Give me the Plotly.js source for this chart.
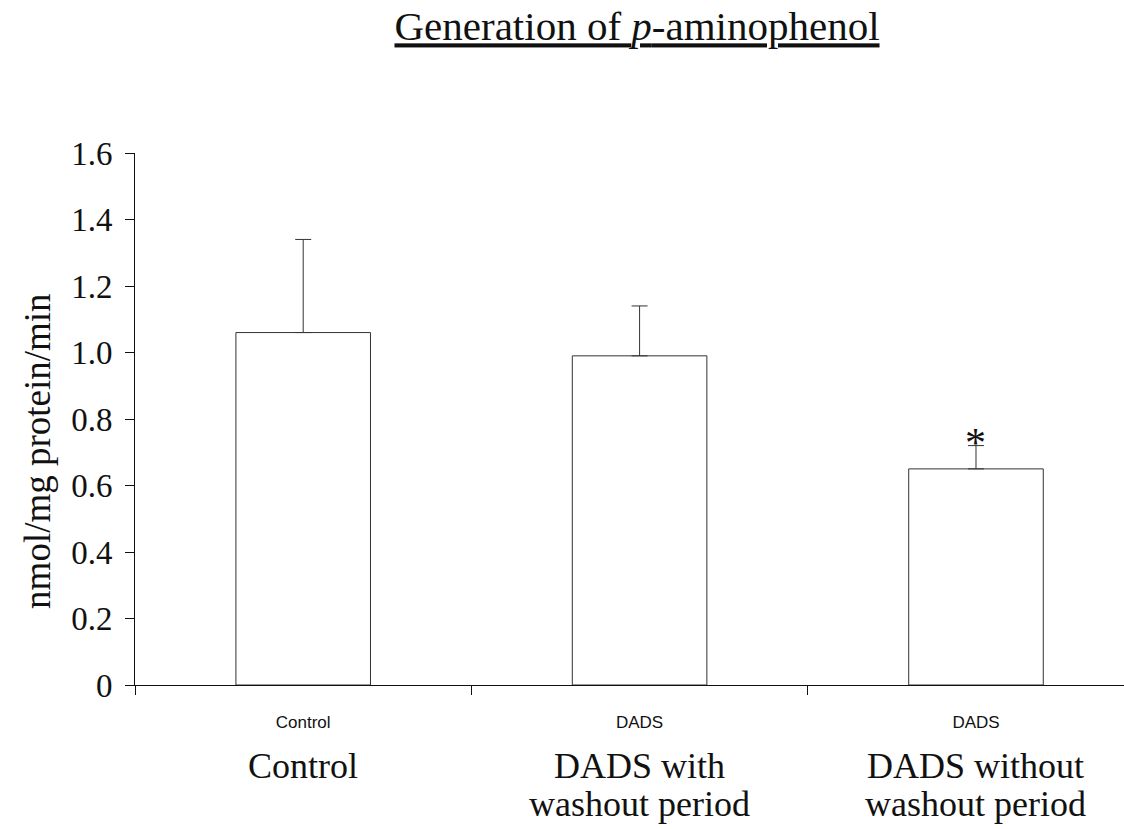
<!DOCTYPE html>
<html>
<head>
<meta charset="utf-8">
<script src="https://cdn.plot.ly/plotly-3.0.1.min.js"></script>
<style>html,body{margin:0;padding:0;background:#fff;}#chart{width:1124px;height:829px;}</style>
</head>
<body>
<div id="chart"></div>
<script>
// ---- data ----
var categories = ["Control", "DADS with washout period", "DADS without washout period"];
var tickLabelsX = ["Control", "DADS", "DADS"];
var groupLine1 = ["Control", "DADS with", "DADS without"];
var groupLine2 = ["", "washout period", "washout period"];
var means = [1.06, 0.99, 0.65];
var sdPlus = [0.28, 0.15, 0.07];
var significance = ["", "", "*"];
var yTickVals = [0, 0.2, 0.4, 0.6, 0.8, 1.0, 1.2, 1.4, 1.6];
var yTickText = ["0", "0.2", "0.4", "0.6", "0.8", "1.0", "1.2", "1.4", "1.6"];
var yTitle = "nmol/mg protein/min";

var serif = "'Liberation Serif', 'Times New Roman', serif";
var sans = "'Liberation Sans', Arial, sans-serif";

var trace = {
  type: "bar",
  x: categories,
  y: means,
  marker: {color: "#ffffff", line: {color: "#333333", width: 1}},
  error_y: {type: "data", symmetric: false, array: sdPlus, arrayminus: [0, 0, 0],
            color: "#333333", thickness: 1, width: 8},
  hoverinfo: "none"
};

var annotations = [];
for (var i = 0; i < categories.length; i++) {
  annotations.push({
    x: categories[i], xref: "x", y: -0.1109, yref: "paper",
    text: groupLine1[i], showarrow: false, yanchor: "top", xanchor: "center",
    font: {family: serif, size: 36, color: "#111"}
  });
  if (groupLine2[i]) {
    annotations.push({
      x: categories[i], xref: "x", y: -0.1823, yref: "paper",
      text: groupLine2[i], showarrow: false, yanchor: "top", xanchor: "center",
      font: {family: serif, size: 36, color: "#111"}
    });
  }
  if (significance[i]) {
    annotations.push({
      x: categories[i], xref: "x", y: means[i] + sdPlus[i], yref: "y",
      text: significance[i], showarrow: false, yanchor: "bottom", xanchor: "center",
      yshift: -22, font: {family: serif, size: 42, color: "#111"}
    });
  }
}
annotations.push({
  x: -0.0981, xref: "paper", y: 0.44, yref: "paper",
  text: yTitle, textangle: -90, showarrow: false, xanchor: "center", yanchor: "middle",
  font: {family: serif, size: 37, color: "#111"}
});

var layout = {
  width: 1124, height: 829,
  margin: {l: 135, r: 0, t: 153, b: 144},
  paper_bgcolor: "#fff", plot_bgcolor: "#fff",
  showlegend: false,
  bargap: 0.6,
  title: {
    text: "<u>Generation of <i>p</i>-aminophenol</u>",
    x: 0.5076, xref: "paper", xanchor: "center",
    y: 1 - 26 / 829, yref: "container", yanchor: "middle",
    font: {family: serif, size: 41, color: "#111"}
  },
  xaxis: {
    type: "category", range: [-0.5, 2.44],
    tickmode: "array", tickvals: categories, ticktext: tickLabelsX,
    tickson: "boundaries", ticks: "outside", ticklen: 9, tickcolor: "#111", tickwidth: 1,
    showline: true, linecolor: "#111", linewidth: 1,
    showgrid: false, zeroline: false,
    tickfont: {family: sans, size: 17, color: "#111"},
    ticklabelstandoff: 22, fixedrange: true
  },
  yaxis: {
    range: [0, 1.6],
    tickmode: "array", tickvals: yTickVals, ticktext: yTickText,
    ticks: "outside", ticklen: 9, tickcolor: "#111", tickwidth: 1,
    showline: true, linecolor: "#111", linewidth: 1,
    showgrid: false, zeroline: false,
    tickfont: {family: serif, size: 33, color: "#111"},
    ticklabelstandoff: 6,
    fixedrange: true
  },
  annotations: annotations
};

Plotly.newPlot("chart", [trace], layout, {displayModeBar: false, staticPlot: true});
</script>
</body>
</html>
